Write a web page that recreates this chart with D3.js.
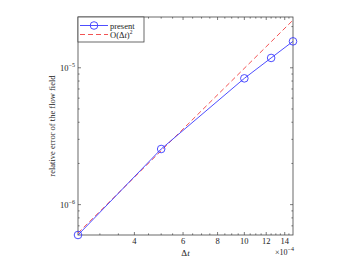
<!DOCTYPE html>
<html>
<head>
<meta charset="utf-8">
<script src="https://cdn.jsdelivr.net/npm/d3@7"></script>
<style>
  body { margin: 0; background: #fff; }
  svg text { font-family: "Liberation Serif", "DejaVu Serif", serif; fill: #222; }
</style>
</head>
<body>
<div id="chart"></div>
<script>
// time step (s) and relative error of the flow field
const dt = [2.5e-4, 5e-4, 1e-3, 1.25e-3, 1.5e-3];
const err = [6.0e-7, 2.55e-6, 8.37e-6, 1.18e-5, 1.56e-5];
// second order reference line
const refDt = [2.5e-4, 1.5e-3];
const refErr = [6.2e-7, 2.23e-5];

const xMajor = [4e-4, 6e-4, 8e-4, 1e-3, 1.2e-3, 1.4e-3];
const xMinor = [3e-4, 3.5e-4, 4.5e-4, 5e-4, 5.5e-4, 6.5e-4, 7e-4, 7.5e-4, 8.5e-4, 9e-4, 9.5e-4,
  1.05e-3, 1.1e-3, 1.15e-3, 1.25e-3, 1.3e-3, 1.35e-3, 1.45e-3];
const yMajor = [1e-6, 1e-5];
const yMinor = [7e-7, 8e-7, 9e-7, 2e-6, 3e-6, 4e-6, 5e-6, 6e-6, 7e-6, 8e-6, 9e-6, 2e-5];

const W = 359, H = 259;
const L = 78, R = 293, T = 17, B = 235;

const svg = d3.select("#chart").append("svg")
  .attr("width", W).attr("height", H);

const x = d3.scaleLog().domain([2.5e-4, 1.5e-3]).range([L, R]);
const y = d3.scaleLog().domain([6e-7, 2.35e-5]).range([B, T]);

const axisCol = "#444";

// ticks (inward, all four sides)
function tickLines(vals, len, horiz) {
  vals.forEach(v => {
    if (horiz) {
      svg.append("line").attr("x1", x(v)).attr("x2", x(v)).attr("y1", B).attr("y2", B - len)
        .attr("stroke", axisCol).attr("stroke-width", 0.7);
      svg.append("line").attr("x1", x(v)).attr("x2", x(v)).attr("y1", T).attr("y2", T + len)
        .attr("stroke", axisCol).attr("stroke-width", 0.7);
    } else {
      svg.append("line").attr("y1", y(v)).attr("y2", y(v)).attr("x1", L).attr("x2", L + len)
        .attr("stroke", axisCol).attr("stroke-width", 0.7);
      svg.append("line").attr("y1", y(v)).attr("y2", y(v)).attr("x1", R).attr("x2", R - len)
        .attr("stroke", axisCol).attr("stroke-width", 0.7);
    }
  });
}
tickLines(xMajor, 3, true);
tickLines(xMinor, 1.6, true);
tickLines(yMajor, 3, false);
tickLines(yMinor, 1.6, false);

// box
svg.append("rect").attr("x", L).attr("y", T).attr("width", R - L).attr("height", B - T)
  .attr("fill", "none").attr("stroke", axisCol).attr("stroke-width", 0.8);

// x tick labels
svg.selectAll("text.xt").data(xMajor).enter().append("text")
  .attr("class", "xt")
  .attr("x", d => x(d)).attr("y", 244)
  .attr("text-anchor", "middle")
  .style("font-size", "8.5px")
  .text(d => d3.format("d")(Math.round(d * 1e4)));

// y tick labels
const ytl = svg.selectAll("text.yt").data(yMajor).enter().append("text")
  .attr("class", "yt")
  .attr("x", 75).attr("y", d => y(d) + 3)
  .attr("text-anchor", "end")
  .style("font-size", "8.5px");
ytl.append("tspan").text("10");
ytl.append("tspan").attr("dy", -4).style("font-size", "6px").text(d => "\u2212" + Math.round(-Math.log10(d)));

// x axis label
const xl = svg.append("text").attr("x", (L + R) / 2).attr("y", 256)
  .attr("text-anchor", "middle").style("font-size", "9px");
xl.append("tspan").text("\u0394");
xl.append("tspan").style("font-style", "italic").text("t");

// exponent note
const ex = svg.append("text").attr("x", R + 1).attr("y", 255)
  .attr("text-anchor", "end").style("font-size", "8px");
ex.append("tspan").text("\u00d710");
ex.append("tspan").attr("dy", -4).style("font-size", "6px").text("\u22124");

// y axis label
svg.append("text")
  .attr("transform", `translate(55,${(T + B) / 2}) rotate(-90)`)
  .attr("text-anchor", "middle")
  .style("font-size", "8.5px")
  .text("relative error of the flow field");

// reference line O(dt)^2
const refPts = refDt.map((d, i) => [d, refErr[i]]);
svg.append("path")
  .attr("d", d3.line().x(d => x(d[0])).y(d => y(d[1]))(refPts))
  .attr("fill", "none").attr("stroke", "#f04040").attr("stroke-width", 0.9)
  .attr("stroke-dasharray", "5,3");

// present results
const pts = dt.map((d, i) => [d, err[i]]);
svg.append("path")
  .attr("d", d3.line().x(d => x(d[0])).y(d => y(d[1]))(pts))
  .attr("fill", "none").attr("stroke", "#3a3aff").attr("stroke-width", 0.9);
svg.selectAll("circle.pt").data(pts).enter().append("circle")
  .attr("class", "pt")
  .attr("cx", d => x(d[0])).attr("cy", d => y(d[1])).attr("r", 3.8)
  .attr("fill", "none").attr("stroke", "#3a3aff").attr("stroke-width", 0.9);

// legend
const lg = svg.append("g");
lg.append("rect").attr("x", L).attr("y", T).attr("width", 66).attr("height", 25)
  .attr("fill", "#fff").attr("stroke", axisCol).attr("stroke-width", 0.8);
lg.append("line").attr("x1", 80).attr("x2", 108).attr("y1", 25.5).attr("y2", 25.5)
  .attr("stroke", "#3a3aff").attr("stroke-width", 0.9);
lg.append("circle").attr("cx", 94).attr("cy", 25.5).attr("r", 3.8)
  .attr("fill", "none").attr("stroke", "#3a3aff").attr("stroke-width", 0.9);
lg.append("text").attr("x", 110).attr("y", 28.5).style("font-size", "8.5px").text("present");
lg.append("line").attr("x1", 80).attr("x2", 108).attr("y1", 34.5).attr("y2", 34.5)
  .attr("stroke", "#f04040").attr("stroke-width", 0.9).attr("stroke-dasharray", "5,3");
const lt = lg.append("text").attr("x", 110).attr("y", 37.5).style("font-size", "8.5px");
lt.append("tspan").text("O(\u0394");
lt.append("tspan").style("font-style", "italic").text("t");
lt.append("tspan").text(")");
lt.append("tspan").attr("dy", -3.5).style("font-size", "5.5px").text("2");
</script>
</body>
</html>
